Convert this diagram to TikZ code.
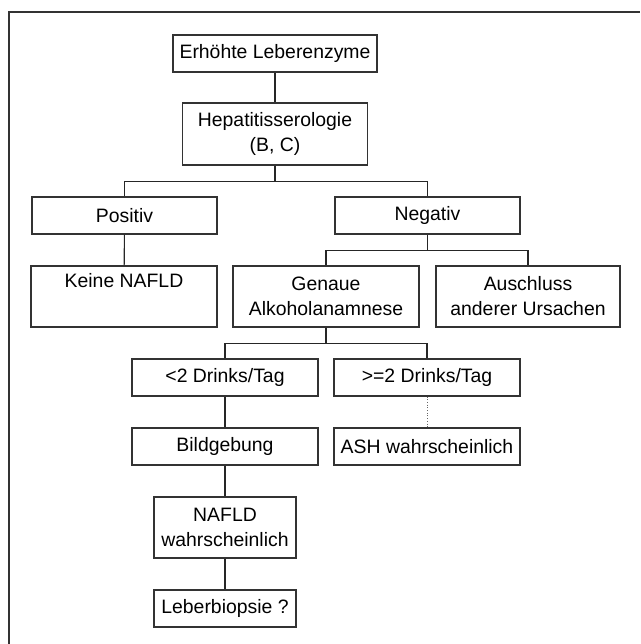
\documentclass[tikz,border=0pt]{standalone}
\usepackage{fontspec}
\setmainfont{Liberation Sans}

\begin{document}
\begin{tikzpicture}[x=1pt,y=-1pt,
  box/.style={draw=black!80,line width=1.1pt,inner sep=0pt,align=center,
    font=\fontsize{19.4}{25}\selectfont},
  link/.style={draw=black!85,line width=1.1pt}]
\useasboundingbox (0,0) rectangle (640,644);
\draw[line width=1.3pt,black!80] (9,644)--(9,12)--(640,12);

 \node[box,minimum width=204,minimum height=37] (erh) at (275,53.5) {Erhöhte Leberenzyme};
 \node[box,minimum width=185,minimum height=62] (sero) at (275,134) {Hepatitisserologie\\(B, C)};
 \node[box,minimum width=185,minimum height=37] (pos) at (124.5,215.5) {Positiv};
 \node[box,minimum width=185,minimum height=37] (neg) at (427.5,215.5) {Negativ};
 \node[box,minimum width=186,minimum height=61] (keine) at (124,296.5) {Keine NAFLD\\\strut};
 \node[box,minimum width=186,minimum height=61] (alk) at (326,296.5) {Genaue\\Alkoholanamnese};
 \node[box,minimum width=184,minimum height=61] (aus) at (528,296.5) {Auschluss\\anderer Ursachen};
 \node[box,minimum width=186,minimum height=37] (wenig) at (225,377.5) {<2 Drinks/Tag};
 \node[box,minimum width=186,minimum height=37] (viel) at (427,377.5) {>=2 Drinks/Tag};
 \node[box,minimum width=186,minimum height=37] (bild) at (225,446.5) {Bildgebung};
 \node[box,minimum width=186,minimum height=37] (ash) at (427,446.5) {ASH wahrscheinlich};
 \node[box,minimum width=142,minimum height=61] (nafld) at (225,527.5) {NAFLD\\wahrscheinlich};
 \node[box,minimum width=142,minimum height=37] (biop) at (225,608.5) {Leberbiopsie ?};

 \draw[link] (erh)--(sero);
 \draw[link] (sero.south)--++(0,16)-|(pos.north);
 \draw[link] (sero.south)--++(0,16)-|(neg.north);
 \draw[link] (pos)--(keine);
 \draw[link] (neg.south)--++(0,16)-|(alk.north);
 \draw[link] (neg.south)--++(0,16)-|(aus.north);
 \draw[link] (alk.south)--++(0,16)-|(wenig.north);
 \draw[link] (alk.south)--++(0,16)-|(viel.north);
 \draw[link] (wenig)--(bild);
 \draw[link] (bild)--(nafld);
 \draw[link] (nafld)--(biop);
 \draw[line width=0.7pt,black!60,dotted] (viel)--(ash);
\end{tikzpicture}
\end{document}
